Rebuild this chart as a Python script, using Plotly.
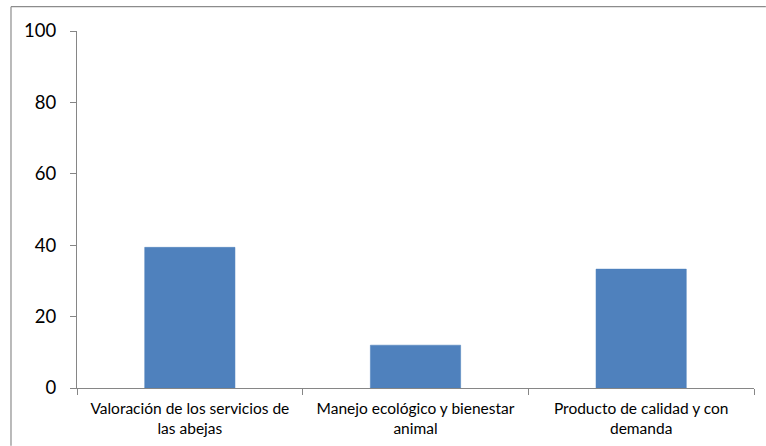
import plotly.graph_objects as go

# Categories and percentage values
categories = [
    "Valoración de los servicios de<br>las abejas",
    "Manejo ecológico y bienestar<br>animal",
    "Producto de calidad y con<br>demanda",
]
values = [39.4, 12.0, 33.3]
y_ticks = [0, 20, 40, 60, 80, 100]

fig = go.Figure(
    go.Bar(
        x=categories,
        y=values,
        width=0.4,
        marker=dict(color="#4F81BD", line=dict(color="#4A7EBB", width=0.5)),
    )
)

frame = dict(color="#8C8C8C", width=1.2)

fig.update_layout(
    width=766,
    height=446,
    margin=dict(l=77, r=12, t=31, b=58, autoexpand=False),
    paper_bgcolor="white",
    plot_bgcolor="white",
    showlegend=False,
    font=dict(family="Lato, Open Sans, sans-serif", color="#000000"),
    shapes=[
        # outer chart frame: top and left edges, running to the page edge
        dict(type="line", xref="paper", yref="paper",
             x0=-0.0975, x1=1.0175, y0=1.068, y1=1.068, line=frame, layer="below"),
        dict(type="line", xref="paper", yref="paper",
             x0=-0.0975, x1=-0.0975, y0=-0.162, y1=1.068, line=frame, layer="below"),
    ],
)

fig.update_yaxes(
    range=[0, 100],
    tickvals=y_ticks,
    showgrid=False,
    zeroline=False,
    showline=True,
    linecolor="#868686",
    linewidth=1.2,
    ticks="outside",
    ticklen=6,
    tickcolor="#868686",
    tickfont=dict(size=18.5),
    ticklabelstandoff=10,
    automargin=False,
)

fig.update_xaxes(
    showgrid=False,
    showline=True,
    linecolor="#868686",
    linewidth=1.2,
    ticks="outside",
    ticklen=6,
    tickcolor="#868686",
    tickson="boundaries",
    tickfont=dict(size=15.5),
    tickangle=0,
    ticklabelstandoff=6,
    automargin=False,
)

# keep the page itself from scrolling
fig.write_html(
    "out.html",
    config={"displayModeBar": False},
    post_script="document.documentElement.style.overflow='hidden';document.body.style.overflow='hidden';",
)
